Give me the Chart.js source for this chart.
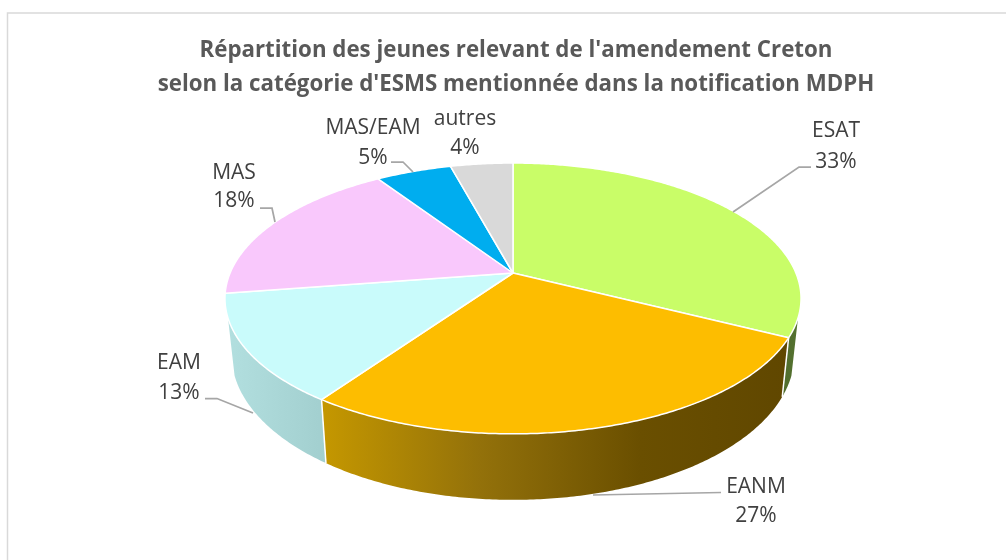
<!DOCTYPE html>
<html><head><meta charset="utf-8">
<style>html,body{margin:0;padding:0;background:#fff}canvas{display:block}</style>
<script src="https://cdn.jsdelivr.net/npm/chart.js@4/dist/chart.umd.js"></script>
</head><body>
<div style="width:1006px;height:560px"><canvas id="c" width="1006" height="560"></canvas></div>
<script>
const titleLines = ["Répartition des jeunes relevant de l'amendement Creton","selon la catégorie d'ESMS mentionnée dans la notification MDPH"];
const categories = ["ESAT","EANM","EAM","MAS","MAS/EAM","autres"];
const shares = [32.5,27.2,12.9,18.1,5.1,4.2];
const faceColors = ["#c9fd68","#fdbd00","#c9fbfb","#f9c8fc","#00adef","#d9d9d9"];

// label layout: [centre x, first line y, second line y]
const labelBoxes = [[836,131,162],[756,487,516],[179,363,393],[234,173,201],[373,128,158],[465,119,148]];
// leader lines
const leaders = [
  [[811,167],[799,167],[733,212]],
  [[721,492.5],[593,495]],
  [[205,398.5],[217,398.5],[253,413]],
  [[260,208],[272,208],[275,222]],
  [[391,162],[403,162],[413,172]],
  []
];
// wall gradient per slice: [x, colour] stops
const wallStops = [
  [[780,"#4f6b2c"],[800,"#567330"]],
  [[325,"#c49700"],[480,"#93710a"],[640,"#6a4f00"],[790,"#604700"]],
  [[228,"#b2dfdf"],[325,"#a2cfcf"]],
  [],[],[]
];

// Projection of the unit disc on the tilted pie top
const P = {cx:513, cy:273, A:79.3, C:-0.188, D:282.9};
const FRONT = [18.9*Math.PI/180, 161.1*Math.PI/180];
function topPt(a){
  const u=Math.cos(a), v=Math.sin(a), w=1+P.C*v;
  return [P.cx+P.D*u/w, (P.cy+P.A*v)/w];
}
function bottomPt(a){
  const [x,y]=topPt(a);
  return [P.cx+(x-P.cx)*0.977, y+59+0.073*(y-338)];
}

class Arc3D extends Chart.ArcElement {
  static id='arc3d';
  draw(ctx){
    const {startAngle:s,endAngle:e,options:o}=this;
    ctx.save();
    ctx.beginPath();
    ctx.moveTo(P.cx,P.cy);
    const n=Math.max(4,Math.ceil((e-s)/0.01));
    for(let i=0;i<=n;i++){const p=topPt(s+(e-s)*i/n);ctx.lineTo(p[0],p[1]);}
    ctx.closePath();
    ctx.fillStyle=o.backgroundColor;
    ctx.fill();
    ctx.strokeStyle=o.borderColor;
    ctx.lineWidth=o.borderWidth;
    ctx.lineJoin='round';
    ctx.stroke();
    ctx.restore();
  }
}
class Pie3D extends Chart.PieController {
  static id='pie3d';
  static defaults={dataElementType:'arc3d'};
  draw(){
    const ctx=this.chart.ctx;
    const els=this.getMeta().data;
    els.forEach((el,i)=>{
      const s=Math.max(el.startAngle,FRONT[0]), e=Math.min(el.endAngle,FRONT[1]);
      if(e<=s||!wallStops[i].length) return;
      const x0=wallStops[i][0][0], x1=wallStops[i][wallStops[i].length-1][0];
      const g=ctx.createLinearGradient(x0,0,x1,0);
      wallStops[i].forEach(st=>g.addColorStop((st[0]-x0)/(x1-x0),st[1]));
      const n=Math.ceil((e-s)/0.01);
      ctx.save();
      ctx.beginPath();
      for(let k=0;k<=n;k++){const p=topPt(s+(e-s)*k/n);k?ctx.lineTo(p[0],p[1]):ctx.moveTo(p[0],p[1]);}
      for(let k=n;k>=0;k--){const p=bottomPt(s+(e-s)*k/n);ctx.lineTo(p[0],p[1]);}
      ctx.closePath();
      ctx.fillStyle=g;ctx.fill();
      ctx.restore();
    });
    // separators between walls
    els.forEach(el=>{
      const a=el.endAngle;
      if(a<=FRONT[0]||a>=FRONT[1]) return;
      const p=topPt(a),q=bottomPt(a);
      ctx.save();ctx.strokeStyle='#fff';ctx.lineWidth=1.5;
      ctx.beginPath();ctx.moveTo(p[0],p[1]);ctx.lineTo(q[0],q[1]);ctx.stroke();ctx.restore();
    });
    super.draw();
  }
}
Chart.register(Arc3D,Pie3D);

const framePlugin={id:'frame',beforeDraw(chart){
  const ctx=chart.ctx;
  ctx.save();ctx.fillStyle='#fff';ctx.fillRect(0,0,chart.width,chart.height);
  ctx.strokeStyle='#d9d9d9';ctx.lineWidth=1.5;
  ctx.beginPath();ctx.moveTo(7.5,560);ctx.lineTo(7.5,13);ctx.lineTo(1006,13);ctx.stroke();
  ctx.restore();
}};
const labelPlugin={id:'pieLabels',afterDatasetsDraw(chart){
  const ctx=chart.ctx;
  ctx.save();
  ctx.strokeStyle='#a6a6a6';ctx.lineWidth=1.75;
  leaders.forEach(l=>{ if(!l.length) return;
    ctx.beginPath();l.forEach((p,i)=>i?ctx.lineTo(p[0],p[1]):ctx.moveTo(p[0],p[1]));ctx.stroke();});
  ctx.fillStyle='#404040';ctx.font='21px "Open Sans"';ctx.textAlign='center';ctx.textBaseline='middle';
  categories.forEach((c,i)=>{
    const b=labelBoxes[i];
    ctx.fillText(c,b[0],b[1]);
    ctx.fillText(Math.round(shares[i])+'%',b[0],b[2]);
  });
  ctx.restore();
}};

new Chart(document.getElementById('c'),{
  type:'pie3d',
  data:{labels:categories,datasets:[{data:shares,backgroundColor:faceColors,borderColor:'#ffffff',borderWidth:1.5}]},
  plugins:[framePlugin,labelPlugin],
  options:{
    responsive:false,animation:false,
    layout:{padding:{left:26}},
    plugins:{
      legend:{display:false},tooltip:{enabled:false},
      title:{display:true,text:titleLines,color:'#595959',
        font:{family:'"Open Sans"',size:22.3,weight:'bold',lineHeight:1.52},
        padding:{top:34,bottom:10}}
    }
  }
});
</script>
</body></html>
